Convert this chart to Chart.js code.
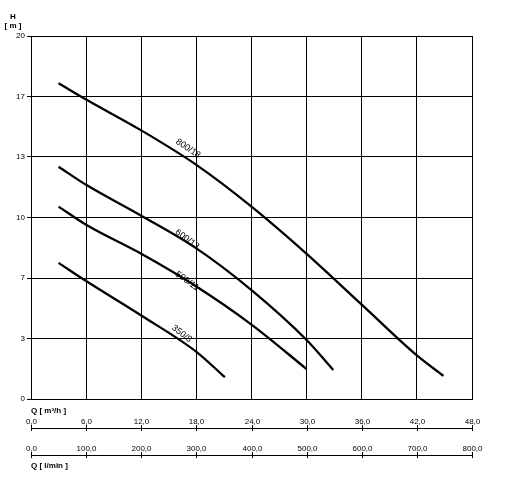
<!DOCTYPE html>
<html><head>
<script src="https://cdn.jsdelivr.net/npm/chart.js@4/dist/chart.umd.min.js"></script>
<style>body{margin:0;background:#fff}#wrap{width:513px;height:487px}</style>
</head><body><div id="wrap"><canvas id="c"></canvas></div>
<script>
const yTicks = [0, 20/6, 40/6, 10, 80/6, 100/6, 20];
const xTicksM3 = ['0,0','6,0','12,0','18,0','24,0','30,0','36,0','42,0','48,0'];
const xTicksL = ['0,0','100,0','200,0','300,0','400,0','500,0','600,0','700,0','800,0'];
const q800 = [3, 6, 12, 18, 24, 30, 36, 42, 44.9];
const h800 = [17.4, 16.5, 14.8, 12.9, 10.6, 8.0, 5.2, 2.4, 1.27];
const q600 = [3, 6, 12, 18, 24, 30, 32.9];
const h600 = [12.8, 11.8, 10.1, 8.3, 6.0, 3.25, 1.6];
const q500 = [3, 6, 12, 18, 24, 30];
const h500 = [10.6, 9.6, 8.0, 6.2, 4.1, 1.65];
const q350 = [3, 6, 12, 18, 21.1];
const h350 = [7.5, 6.5, 4.6, 2.6, 1.2];
const curveLabels = [
  {text:'800/18', q:17.1, h:13.8, ang:33},
  {text:'600/13', q:17, h:8.8, ang:36},
  {text:'500/11', q:17, h:6.5, ang:36},
  {text:'350/8', q:16.4, h:3.6, ang:37}
];

const mk = (q, h) => q.map((v, i) => ({x: v, y: h[i]}));
const ds = (q, h) => ({data: mk(q, h), borderColor:'#000', borderWidth:2.3, pointRadius:0, cubicInterpolationMode:'monotone', fill:false});
const FONT = 'Arial, "Liberation Sans", sans-serif';

const deco = {
  id:'deco',
  afterDraw(chart) {
    const c = chart.ctx, x = chart.scales.x, y = chart.scales.y;
    c.save();
    c.fillStyle = '#000'; c.strokeStyle = '#000'; c.lineWidth = 1;
    c.font = '9px ' + FONT;
    curveLabels.forEach(l => {
      c.save();
      c.translate(x.getPixelForValue(l.q), y.getPixelForValue(l.h));
      c.rotate(l.ang * Math.PI / 180);
      c.textAlign = 'center'; c.textBaseline = 'middle';
      c.fillText(l.text, 0, 0);
      c.restore();
    });
    c.textAlign = 'center'; c.textBaseline = 'middle';
    c.font = 'bold 8px ' + FONT;
    c.fillText('H', 13, 17);
    c.fillText('[ m ]', 13, 26);
    const rows = [{y:428, labels:xTicksM3, title:'Q [ m³/h ]', ty:411}, {y:455, labels:xTicksL, title:'Q [ l/min ]', ty:466}];
    rows.forEach(r => {
      c.beginPath();
      c.moveTo(x.left, r.y + 0.5); c.lineTo(x.right, r.y + 0.5); c.stroke();
      r.labels.forEach((t, i) => {
        const px = Math.round(x.getPixelForValue(i * 6)) + 0.5;
        c.beginPath(); c.moveTo(px, r.y - 3); c.lineTo(px, r.y + 3); c.stroke();
        c.font = '8px ' + FONT;
        c.textAlign = 'center'; c.textBaseline = 'bottom';
        c.fillText(t, px, r.y - 2);
      });
      c.font = 'bold 8px ' + FONT;
      c.textAlign = 'left'; c.textBaseline = 'middle';
      c.fillText(r.title, 31, r.ty);
    });
    c.restore();
  }
};

new Chart(document.getElementById('c'), {
  type:'line',
  data:{datasets:[ds(q800,h800), ds(q600,h600), ds(q500,h500), ds(q350,h350)]},
  options:{
    responsive:true, maintainAspectRatio:false, animation:false,
    layout:{padding:{top:36, bottom:88, right:41, left:0}},
    plugins:{legend:{display:false}, tooltip:{enabled:false}},
    scales:{
      x:{type:'linear', min:0, max:48, display:true,
        ticks:{display:false, stepSize:6},
        grid:{color:'#000', lineWidth:1, drawTicks:false},
        border:{color:'#000'}},
      y:{min:0, max:20, afterBuildTicks: s => { s.ticks = yTicks.map(v => ({value:v})); },
        afterFit: s => { s.width = 31; },
        ticks:{color:'#000', font:{size:8, family:FONT}, padding:2,
          callback: v => Math.round(v)},
        grid:{color:'#000', lineWidth:1, tickLength:4},
        border:{color:'#000'}}
    }
  },
  plugins:[deco]
});
</script>
</body></html>
